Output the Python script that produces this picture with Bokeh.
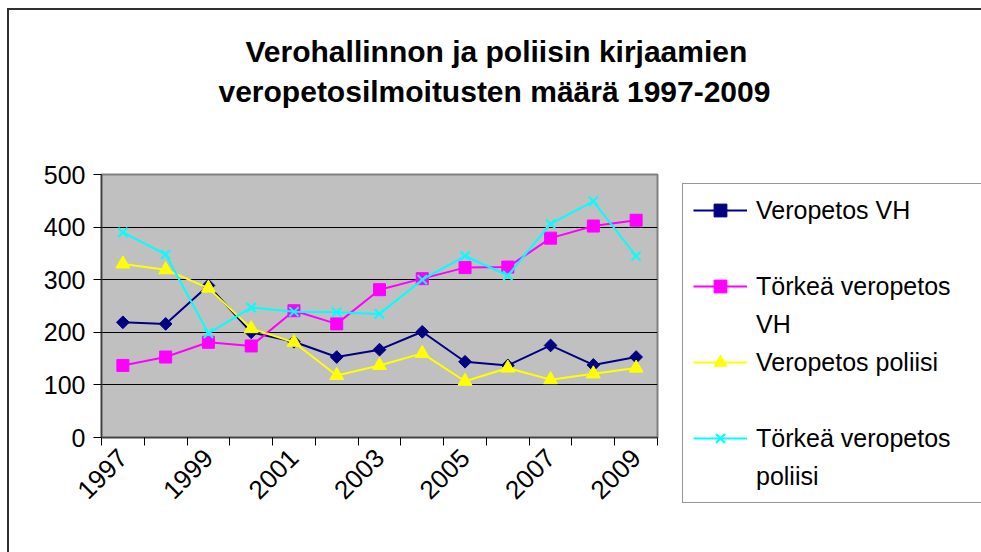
import math
from bokeh.plotting import figure
from bokeh.layouts import column, row
from bokeh.models import Title, Legend, LegendItem, FixedTicker, Range1d
from bokeh.embed import file_html
from bokeh.resources import INLINE

# ---- data ----
years = [1997, 1998, 1999, 2000, 2001, 2002, 2003, 2004, 2005, 2006, 2007, 2008, 2009]
veropetos_vh = [219, 216, 289, 200, 182, 153, 167, 201, 144, 137, 175, 138, 153]
torkea_vh = [137, 153, 181, 174, 241, 216, 281, 302, 323, 324, 379, 402, 413]
veropetos_poliisi = [330, 319, 284, 207, 181, 118, 137, 160, 107, 132, 110, 121, 132]
torkea_poliisi = [390, 348, 198, 247, 239, 238, 235, 300, 345, 308, 406, 449, 345]
y_ticks = [0, 100, 200, 300, 400, 500]
x_tick_labels = [1997, 1999, 2001, 2003, 2005, 2007, 2009]

title_line1 = "Verohallinnon ja poliisin kirjaamien"
title_line2 = "veropetosilmoitusten määrä 1997-2009"
series_names = ["Veropetos VH", "Törkeä veropetos", "VH", "Veropetos poliisi",
                "Törkeä veropetos", "poliisi"]

FONT = "Liberation Sans"
NAVY, MAGENTA, YELLOW, CYAN = "#000080", "#FF00FF", "#FFFF00", "#00FFFF"

# ---------------- title strip ----------------
ft = figure(width=981, height=130, output_backend="svg", toolbar_location=None,
            x_axis_type=None, y_axis_type=None,
            min_border_left=0, min_border_right=0, min_border_top=108, min_border_bottom=0,
            background_fill_color=None, border_fill_color=None, outline_line_color=None)
ft.grid.visible = False
t2 = Title(text=title_line2, align="left", text_font=FONT, text_font_size="30px",
           text_font_style="bold", text_color="black", offset=218, standoff=2)
t1 = Title(text=title_line1, align="left", text_font=FONT, text_font_size="30px",
           text_font_style="bold", text_color="black", offset=245, standoff=8)
ft.add_layout(t2, "above")
ft.add_layout(t1, "above")

# ---------------- main chart ----------------
p = figure(width=670, height=422, output_backend="svg", toolbar_location=None,
           x_range=Range1d(years[0] - 0.5, years[-1] + 0.5),
           y_range=Range1d(y_ticks[0], y_ticks[-1]),
           min_border_left=101, min_border_right=13, min_border_top=44, min_border_bottom=115,
           background_fill_color="#C0C0C0", border_fill_color=None)
p.outline_line_color = "#808080"
p.outline_line_width = 2

p.yaxis.ticker = FixedTicker(ticks=y_ticks)
p.yaxis.major_label_text_font = FONT
p.yaxis.major_label_text_font_size = "25px"
p.yaxis.major_label_text_color = "black"
p.yaxis.major_tick_out = 8
p.yaxis.major_tick_in = 0
p.yaxis.major_tick_line_color = "black"
p.yaxis.minor_tick_line_color = None
p.yaxis.axis_line_color = "#404040"
p.yaxis.axis_line_width = 1.5
p.yaxis.major_label_standoff = 8

boundaries = [y - 0.5 for y in years] + [years[-1] + 0.5]
p.xaxis.ticker = FixedTicker(ticks=x_tick_labels, minor_ticks=boundaries)
p.xaxis.major_tick_line_color = None
p.xaxis.minor_tick_out = 8
p.xaxis.minor_tick_in = 0
p.xaxis.minor_tick_line_color = "black"
p.xaxis.major_label_orientation = math.pi / 4
p.xaxis.major_label_text_font = FONT
p.xaxis.major_label_text_font_size = "26px"
p.xaxis.major_label_text_color = "black"
p.xaxis.major_label_standoff = 8
p.xaxis.axis_line_color = "#404040"
p.xaxis.axis_line_width = 1.5

p.xgrid.visible = False
p.ygrid.ticker = FixedTicker(ticks=y_ticks)
p.ygrid.grid_line_color = "black"
p.ygrid.grid_line_width = 1


def add_series(fig, xs, ys, color, marker, size, angle=0.0, filled=True):
    ln = fig.line(xs, ys, line_color=color, line_width=2)
    if filled:
        mk = fig.scatter(xs, ys, marker=marker, size=size, angle=angle,
                         fill_color=color, line_color=color)
    else:
        mk = fig.scatter(xs, ys, marker=marker, size=size, angle=angle,
                         line_color=color, line_width=2)
    return [ln, mk]


add_series(p, years, veropetos_vh, NAVY, "square", 9, angle=math.pi / 4)
add_series(p, years, torkea_vh, MAGENTA, "square", 12)
add_series(p, years, veropetos_poliisi, YELLOW, "triangle", 14)
add_series(p, years, torkea_poliisi, CYAN, "x", 13, filled=False)

# ---------------- legend panel ----------------
fl = figure(width=311, height=422, output_backend="svg", toolbar_location=None,
            x_axis_type=None, y_axis_type=None,
            x_range=Range1d(0, 1), y_range=Range1d(0, 1),
            min_border_left=0, min_border_right=0, min_border_top=0, min_border_bottom=0,
            background_fill_color=None, border_fill_color=None, outline_line_color=None)
fl.grid.visible = False
# swatch renderers: same series, outside this panel's ranges, only styling the legend keys
r1 = add_series(fl, years, veropetos_vh, NAVY, "square", 9, angle=math.pi / 4)
r2 = add_series(fl, years, torkea_vh, MAGENTA, "square", 12)
r3 = add_series(fl, years, veropetos_poliisi, YELLOW, "triangle", 14)
r4 = add_series(fl, years, torkea_poliisi, CYAN, "x", 13, filled=False)
blank = fl.line(years, veropetos_vh, line_alpha=0)

items = [
    LegendItem(label=series_names[0], renderers=r1),
    LegendItem(label=" ", renderers=[blank]),
    LegendItem(label=series_names[1], renderers=r2),
    LegendItem(label=series_names[2], renderers=[blank]),
    LegendItem(label=series_names[3], renderers=r3),
    LegendItem(label=" ", renderers=[blank]),
    LegendItem(label=series_names[4], renderers=r4),
    LegendItem(label=series_names[5], renderers=[blank]),
]
legend = Legend(items=items, location=(12, -66), orientation="vertical",
                label_text_font=FONT, label_text_font_size="25px", label_text_color="black",
                glyph_width=54, glyph_height=32, label_height=32, label_width=240,
                label_standoff=9, spacing=6, padding=10, margin=0,
                border_line_color="#303030", border_line_width=1.5,
                background_fill_color="white", background_fill_alpha=1)
# a side panel is not clipped to the frame; the left panel starts at this figure's left edge
fl.add_layout(legend, "left")

layout = column(ft, row(p, fl, spacing=0), spacing=0)
# outer chart border (left and top edges visible, as in the reference)
layout.styles = {
    "background": "linear-gradient(#303030,#303030) 7px 8px / 2px 100% no-repeat, "
                  "linear-gradient(#303030,#303030) 7px 8px / 100% 2px no-repeat, white"
}

open("out.html", "w").write(file_html(layout, INLINE))
